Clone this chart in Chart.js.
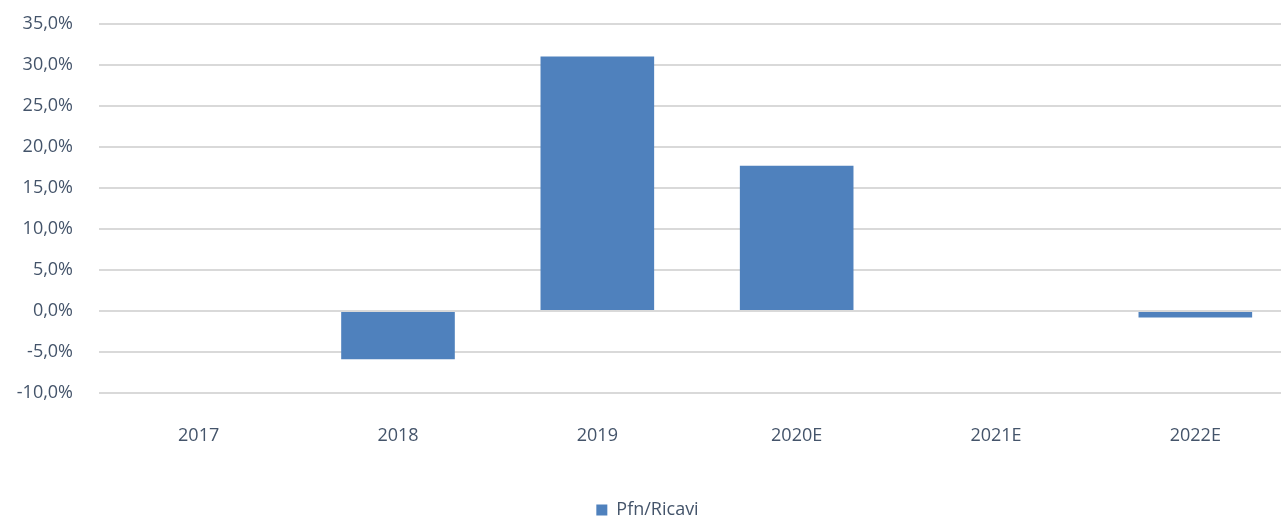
<!DOCTYPE html>
<html>
<head>
<meta charset="utf-8">
<script src="https://cdn.jsdelivr.net/npm/chart.js@4"></script>
<style>
  html, body { margin: 0; padding: 0; background: #fff; overflow: hidden; }
  #wrap { width: 1295px; height: 542px; margin-top: -13px; }
</style>
</head>
<body>
<div id="wrap"><canvas id="barChart"></canvas></div>
<script>
var years = ["2017", "2018", "2019", "2020E", "2021E", "2022E"];
var pfnRicavi = [0, -5.9, 31.0, 17.7, 0, -0.8];
var seriesName = "Pfn/Ricavi";

var textColor = "#44546a";

var ctx = document.getElementById("barChart").getContext("2d");
var myChart = new Chart(ctx, {
  type: "bar",
  data: {
    labels: years,
    datasets: [
      {
        label: seriesName,
        data: pfnRicavi,
        backgroundColor: "#4f81bd",
        borderWidth: 0,
        categoryPercentage: 1,
        barPercentage: 0.57
      }
    ]
  },
  options: {
    responsive: true,
    maintainAspectRatio: false,
    animation: false,
    layout: { padding: { top: 2, left: 0, right: 0, bottom: 0 } },
    plugins: {
      legend: {
        position: "bottom",
        labels: {
          color: textColor,
          font: { family: "Open Sans", size: 18 },
          boxWidth: 11,
          boxHeight: 11,
          padding: 4
        }
      },
      tooltip: { enabled: false }
    },
    scales: {
      x: {
        afterFit: function(scale) { scale.height = 104; },
        grid: { display: false, drawTicks: false },
        border: { display: false },
        ticks: {
          color: textColor,
          font: { family: "Open Sans", size: 18 },
          padding: 32
        }
      },
      y: {
        min: -10,
        max: 35,
        afterFit: function(scale) { scale.width = 99; },
        grid: { color: "#d9d9d9", lineWidth: 2, drawTicks: false },
        border: { display: false },
        ticks: {
          stepSize: 5,
          color: textColor,
          font: { family: "Open Sans", size: 18 },
          padding: 26,
          callback: function(v) { return v.toFixed(1).replace(".", ",") + "%"; }
        }
      }
    }
  }
});
</script>
</body>
</html>
